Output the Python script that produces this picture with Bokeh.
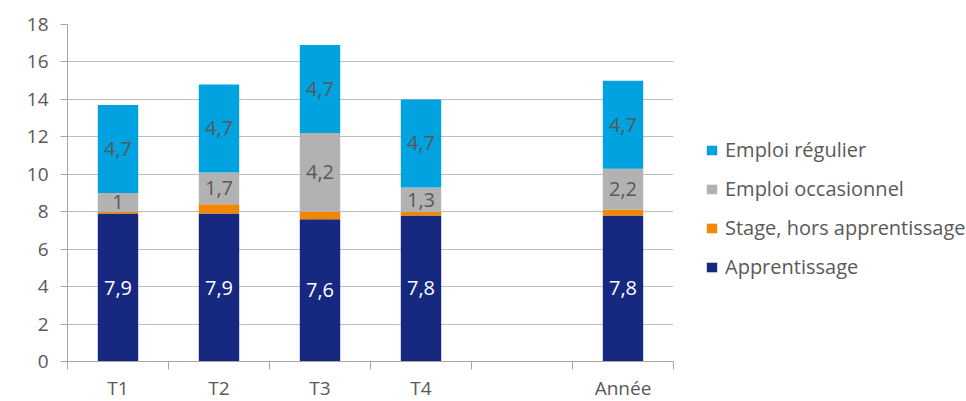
from bokeh.plotting import figure
from bokeh.models import (ColumnDataSource, FixedTicker, Legend, LegendItem, Range1d)
from bokeh.core.properties import value
from bokeh.embed import file_html
from bokeh.resources import INLINE

# ---- data ----
axis_slots = ["T1", "T2", "T3", "T4", "", "Année"]
categories = ["T1", "T2", "T3", "T4", "Année"]
apprentissage = [7.9, 7.9, 7.6, 7.8, 7.8]
stage = [0.1, 0.5, 0.4, 0.2, 0.3]
occasionnel = [1.0, 1.7, 4.2, 1.3, 2.2]
regulier = [4.7, 4.7, 4.7, 4.7, 4.7]
series_names = ["Apprentissage", "Stage, hors apprentissage", "Emploi occasionnel", "Emploi régulier"]
y_ticks = [0, 2, 4, 6, 8, 10, 12, 14, 16, 18]

colors = ["#16287F", "#F28800", "#B2B2B2", "#00A2E0"]
FONT = "Open Sans"
TXT = "#595959"

xs = [axis_slots.index(c) + 0.5 for c in categories]
series = [apprentissage, stage, occasionnel, regulier]
keys = ["app", "sta", "occ", "reg"]

data = {"x": xs}
for k, s in zip(keys, series):
    data[k] = s
src = ColumnDataSource(data)

p = figure(width=966, height=401, output_backend="svg", toolbar_location=None,
           x_range=Range1d(0, len(axis_slots)), y_range=Range1d(0, 18),
           frame_width=606, frame_height=337,
           min_border_left=67, min_border_top=24, min_border_bottom=40, min_border_right=293)
p.outline_line_color = None
p.background_fill_color = "white"
p.border_fill_color = "white"

renderers = p.vbar_stack(keys, x="x", width=0.4, color=colors, source=src, line_color=None)

# value labels
lab_x, lab_y, lab_t, lab_c = [], [], [], []
base = [0.0] * len(categories)
for si, s in enumerate(series):
    for i, v in enumerate(s):
        mid = base[i] + v / 2
        if si != 1:
            lab_x.append(xs[i])
            lab_y.append(mid)
            lab_t.append(f"{v:g}".replace(".", ","))
            lab_c.append("white" if si == 0 else TXT)
        base[i] += v
lsrc = ColumnDataSource(dict(x=lab_x, y=lab_y, t=lab_t, c=lab_c))
p.text(x="x", y="y", text="t", text_color="c", source=lsrc, text_align="center",
       text_baseline="middle", text_font=value(FONT), text_font_size="20px")

# axes
GRID = "#BFBFBF"
AX = "#A6A6A6"
p.xaxis.ticker = FixedTicker(ticks=[i + 0.5 for i in range(len(axis_slots))],
                             minor_ticks=list(range(len(axis_slots) + 1)))
p.xaxis.major_label_overrides = {i + 0.5: axis_slots[i] for i in range(len(axis_slots))}
p.xaxis.major_tick_line_color = None
p.xaxis.major_tick_out = 0
p.xaxis.major_tick_in = 0
p.xaxis.minor_tick_line_color = AX
p.xaxis.minor_tick_out = 8
p.xaxis.minor_tick_in = 0
p.xaxis.axis_line_color = AX
p.xaxis.major_label_standoff = 5
p.xgrid.grid_line_color = None

p.yaxis.ticker = FixedTicker(ticks=y_ticks)
p.yaxis.axis_line_color = AX
p.yaxis.major_tick_line_color = AX
p.yaxis.major_tick_out = 7
p.yaxis.major_tick_in = 0
p.yaxis.minor_tick_line_color = None
p.yaxis.major_label_standoff = 12
p.ygrid.grid_line_color = GRID

for ax in (p.xaxis[0], p.yaxis[0]):
    ax.major_label_text_font = FONT
    ax.major_label_text_font_size = "19px"
    ax.major_label_text_color = TXT

items = [LegendItem(label=series_names[i], renderers=[renderers[i]]) for i in range(3, -1, -1)]
legend = Legend(items=items, location=(32, 81), orientation="vertical")
legend.label_text_font = FONT
legend.label_text_font_size = "20px"
legend.label_text_color = TXT
legend.glyph_width = 13
legend.glyph_height = 12
legend.label_height = 24
legend.spacing = 12
legend.label_standoff = 7
legend.padding = 0
legend.margin = 0
legend.border_line_color = None
legend.background_fill_alpha = 0
p.add_layout(legend, "right")

open("out.html", "w").write(file_html(p, INLINE))
